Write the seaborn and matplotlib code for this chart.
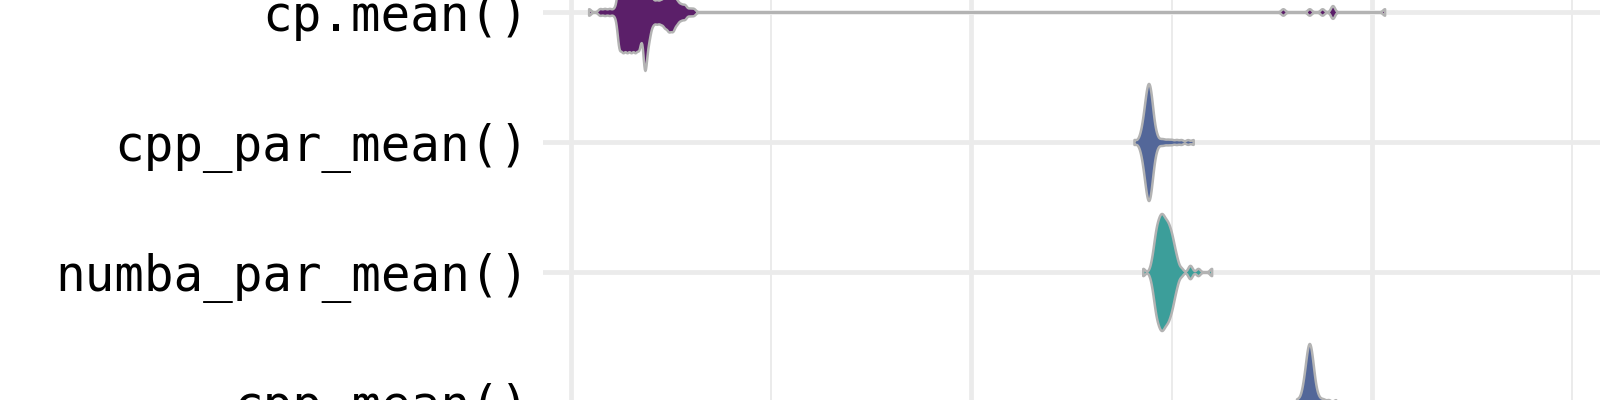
import numpy as np
import pandas as pd
import matplotlib
matplotlib.use("Agg")
import matplotlib.pyplot as plt
import seaborn as sns
from matplotlib.ticker import MultipleLocator

# benchmark functions, top to bottom
funcs = ["cp.mean()", "cpp_par_mean()", "numba_par_mean()", "cpp_mean()"]
fill_colors = ["#5b1f69", "#536799", "#3c9e9a", "#536799"]

# run times: value -> number of runs
cp_vals = [0.22, 0.36, 0.42, 0.48, 0.54, 0.60, 0.65, 0.70, 0.75, 0.80, 0.85,
           0.92, 0.97, 1.02, 1.07, 1.12, 1.17, 1.22, 1.27, 1.32, 1.37, 1.42,
           1.48, 1.53, 8.89, 9.22, 9.38, 9.51, 10.16]
cp_counts = [1, 1, 1, 1, 1, 10, 10, 10, 10, 10, 10,
             17, 7, 3, 3, 3, 4, 5, 5, 3, 2, 2,
             1, 1, 1, 1, 1, 2, 1]

cpp_par_vals = [7.03, 7.09, 7.12, 7.14, 7.16, 7.18, 7.20, 7.22, 7.24, 7.26,
                7.28, 7.31, 7.36, 7.40, 7.45, 7.50, 7.56, 7.62, 7.70, 7.77]
cpp_par_counts = [1, 1, 2, 3, 5, 7, 9, 9, 8, 5,
                  3, 2, 1, 1, 1, 1, 1, 1, 1, 1]

numba_par_vals = [7.14, 7.24, 7.27, 7.30, 7.33, 7.36, 7.39, 7.42, 7.45, 7.48,
                  7.51, 7.54, 7.57, 7.62, 7.72, 7.74, 7.83, 8.00]
numba_par_counts = [1, 1, 3, 6, 7, 8, 8, 7, 7, 6,
                    5, 3, 2, 1, 1, 1, 1, 1]

cpp_vals = [9.06, 9.10, 9.13, 9.15, 9.17, 9.19, 9.21, 9.23, 9.25, 9.27,
            9.29, 9.32, 9.36, 9.40, 9.46, 9.55]
cpp_counts = [1, 1, 2, 3, 5, 7, 9, 9, 7, 5,
              3, 2, 1, 1, 1, 1]

# long format table for seaborn
parts = []
for name, vals, counts in [
    (funcs[0], cp_vals, cp_counts),
    (funcs[1], cpp_par_vals, cpp_par_counts),
    (funcs[2], numba_par_vals, numba_par_counts),
    (funcs[3], cpp_vals, cpp_counts),
]:
    parts.append(pd.DataFrame({"func": name, "time": np.repeat(vals, counts)}))
df = pd.concat(parts, ignore_index=True)

plt.rcParams["font.family"] = ["DejaVu Sans Mono", "DejaVu Sans"]

BW = 0.025  # kde bandwidth in data units


def fixed_bw(kde):
    return BW / np.std(kde.dataset, ddof=1)


fig = plt.figure(figsize=(16, 4), dpi=100)
# panel runs past the bottom of the figure so the last row keeps its label
ax = fig.add_axes([543 / 1600, -40 / 400, 1 - 543 / 1600, 440 / 400])
ax.set_axisbelow(True)

sns.violinplot(
    data=df, x="time", y="func", hue="func", order=funcs, hue_order=funcs,
    palette=dict(zip(funcs, fill_colors)), saturation=1, legend=False,
    density_norm="width", width=0.9, cut=0, gridsize=1500,
    bw_method=fixed_bw, inner=None, linewidth=1.8, linecolor="#b3b3b3",
    ax=ax,
)

# only part of the panel is in view
ax.set_xlim(-0.35, 12.85)
ax.set_ylim(3.292, -0.092)

ax.xaxis.set_major_locator(MultipleLocator(5))
ax.xaxis.set_minor_locator(MultipleLocator(2.5))
ax.grid(which="major", color="#ebebeb", linewidth=3.4)
ax.grid(which="minor", axis="x", color="#ebebeb", linewidth=1.4)

for s in ax.spines.values():
    s.set_visible(False)
ax.tick_params(which="both", length=0, labelbottom=False)
ax.tick_params(axis="y", labelsize=35.5, pad=10, labelcolor="black")
ax.set_xlabel("")
ax.set_ylabel("")

fig.savefig("out.png", dpi=100)
